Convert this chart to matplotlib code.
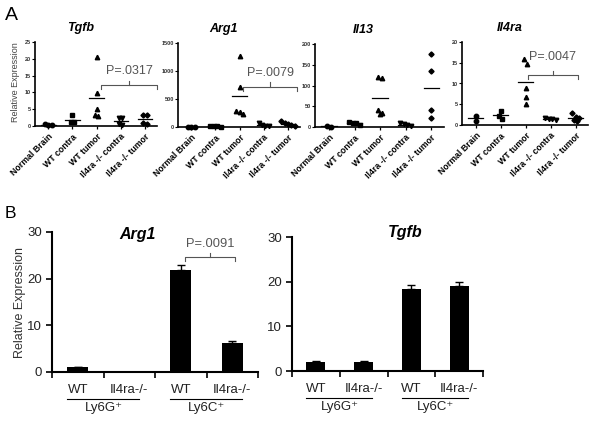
import matplotlib
matplotlib.use('Agg')
import matplotlib.pyplot as plt
import matplotlib.transforms as mtransforms
import numpy as np

plt.rcParams['font.family'] = ['Liberation Sans', 'DejaVu Sans']

W, H = 600, 424

# --- panel A: dot plots, relative expression per mouse ---
groups = ['Normal Brain', 'WT contra', 'WT tumor', 'Il4ra -/- contra', 'Il4ra -/- tumor']
markers = ['o', 's', '^', 'v', 'D']

tgfb_a = [[0.2, 0.5, 0.3], [3.2, 1.2, 1.3], [20.4, 9.9, 5.0, 2.9, 3.2],
          [2.5, 2.4, 0.5, 0.3], [3.3, 3.2, 0.8, 0.7]]
arg1_a = [[8, 2, 5], [25, 12, 10, 8], [1265, 710, 285, 230, 265],
          [75, 40, 25, 15], [100, 80, 60, 30, 25]]
il13_a = [[3, 1], [11, 10, 4, 9], [120, 118, 42, 31, 34],
          [9, 8, 3, 4], [177, 134, 42, 21]]
il4ra_a = [[2.2, 1.0], [3.4, 2.2, 1.4], [15.8, 14.8, 8.9, 6.8, 5.0],
           [1.7, 1.5, 1.4, 1.3], [2.8, 1.9, 1.8, 1.2, 1.0]]

a_genes = ['Tgfb', 'Arg1', 'Il13', 'Il4ra']
a_data = [tgfb_a, arg1_a, il13_a, il4ra_a]
a_ymax = [25, 1500, 200, 20]
a_ystep = [5, 500, 50, 5]
a_pvals = ['P=.0317', 'P=.0079', None, 'P=.0047']

# --- panel B: sorted myeloid cells ---
b_labels = ['WT', 'Il4ra-/-', 'WT', 'Il4ra-/-']
b_cells = ['Ly6G\u207a', 'Ly6C\u207a']
arg1_b = [1.0, 0.0, 21.9, 6.3]
arg1_b_err = [0.1, 0.0, 1.1, 0.35]
tgfb_b = [2.1, 2.1, 18.4, 19.0]
tgfb_b_err = [0.1, 0.1, 0.9, 0.9]

fig = plt.figure(figsize=(W / 100, H / 100), dpi=100)


def px_axes(l, t, r, b):
    return fig.add_axes([l / W, 1 - b / H, (r - l) / W, (b - t) / H])


def swarm(vals, tol, step=0.14):
    # spread points with near-equal values side by side
    vals = np.asarray(vals, float)
    order = np.argsort(vals)[::-1]
    offs = np.zeros(len(vals))
    clusters, cur = [], []
    for i in order:
        if cur and vals[cur[0]] - vals[i] > tol:
            clusters.append(cur)
            cur = []
        cur.append(i)
    clusters.append(cur)
    for c in clusters:
        n = len(c)
        for k, i in enumerate(c):
            offs[i] = (k - (n - 1) / 2) * step
    return offs


def bracket(ax, x1, x2, y, d, text, ty, fs, color='#555555'):
    ax.plot([x1, x1, x2, x2], [y - d, y, y, y - d], color=color, lw=0.8, clip_on=False)
    xm = (x1 + x2) / 2
    ax.plot([xm, xm], [y, y + d], color=color, lw=0.8, clip_on=False)
    ax.text(xm, ty, text, ha='center', va='center', fontsize=fs, color=color)


a_boxes = [(35, 42, 157, 126), (178, 43, 300, 127), (315, 44, 444, 127), (462, 42, 588, 125)]
a_brackets = [(2.2, 4.5, 12.2, 1.3, 16.5), (2.16, 4.37, 720, 80, 970),
              None, (2.08, 4.08, 12.0, 1.0, 16.3)]

for gi, gene in enumerate(a_genes):
    ax = px_axes(*a_boxes[gi])
    ymax = a_ymax[gi]
    for ci, vals in enumerate(a_data[gi]):
        offs = swarm(vals, 0.05 * ymax)
        ms = 2.6 if markers[ci] == 'D' else 3.2
        ax.plot(ci + offs, vals, linestyle='none', marker=markers[ci], ms=ms,
                color='k', clip_on=False)
        m = np.mean(vals)
        ax.plot([ci - 0.3, ci + 0.3], [m, m], color='k', lw=0.9)
    ax.set_xlim(-0.55, 4.5)
    ax.set_ylim(0, ymax)
    ax.set_yticks(np.arange(0, ymax + 1, a_ystep[gi]))
    ax.set_xticks(range(len(groups)))
    ax.set_xticklabels(groups, rotation=45, ha='right', va='top',
                       rotation_mode='anchor', fontsize=6.3, fontweight='bold')
    ax.tick_params(axis='x', length=2.5, width=0.9, pad=2)
    ax.tick_params(axis='y', length=2, width=0.8, labelsize=4, pad=1)
    for lab in ax.get_yticklabels():
        lab.set_fontweight('bold')
        lab.set_color('#333333')
    for s in ['top', 'right']:
        ax.spines[s].set_visible(False)
    for s in ['left', 'bottom']:
        ax.spines[s].set_linewidth(1.2)
    ax.text(1.35, 1 + 14 / 84, gene, transform=ax.get_xaxis_transform(),
            ha='center', va='center', fontsize=9, fontweight='bold', style='italic')
    if a_pvals[gi]:
        x1, x2, y, d, ty = a_brackets[gi]
        bracket(ax, x1, x2, y, d, a_pvals[gi], ty, 9)

fig.text(16 / W, 1 - 82 / H, 'Relative Expression', rotation=90, ha='center',
         va='center', fontsize=6.5, color='#444444')
fig.text(5 / W, 1 - 15 / H, 'A', fontsize=14, ha='left', va='center')
fig.text(5 / W, 1 - 213 / H, 'B', fontsize=12.5, ha='left', va='center')


def bar_panel(box, vals, errs, title, title_px):
    ax = px_axes(*box)
    x = np.arange(len(vals)) + 0.5
    ax.bar(x, vals, width=0.4, color='k')
    errs = np.asarray(errs)
    keep = errs > 0
    ax.errorbar(x[keep], np.asarray(vals)[keep], yerr=[np.zeros(keep.sum()), errs[keep]],
                fmt='none', ecolor='k', elinewidth=1, capsize=3, capthick=1)
    ax.set_xlim(0, 4)
    ax.set_ylim(0, 30)
    ax.set_yticks([0, 10, 20, 30])
    ax.set_xticks(range(5))
    ax.set_xticklabels([])
    ax.tick_params(axis='both', length=4, width=1.2, labelsize=9.5,
                   labelcolor='#222222', pad=3)
    for s in ['top', 'right']:
        ax.spines[s].set_visible(False)
    for s in ['left', 'bottom']:
        ax.spines[s].set_linewidth(1.5)
    tr = ax.get_xaxis_transform()
    for xi, lab in zip(x, b_labels):
        ax.annotate(lab, xy=(xi, 0), xycoords=tr, xytext=(0, -13),
                    textcoords='offset points', ha='center', va='center',
                    fontsize=9.5, color='#222222')
    line_tr = mtransforms.offset_copy(tr, fig=fig, y=-19.4, units='points')
    for k, cell in enumerate(b_cells):
        x1, x2 = 2 * k + 0.3, 2 * k + 1.68
        ax.plot([x1, x2], [0, 0], transform=line_tr, color='k', lw=0.8, clip_on=False)
        ax.annotate(cell, xy=(2 * k + 1, 0), xycoords=tr, xytext=(0, -26),
                    textcoords='offset points', ha='center', va='center',
                    fontsize=9.5, color='#222222')
    fig.text(title_px[0] / W, 1 - title_px[1] / H, title, ha='center', va='center',
             fontsize=11.5, fontweight='bold', style='italic')
    return ax


ax_b1 = bar_panel((52, 232, 258, 372), arg1_b, arg1_b_err, 'Arg1', (138, 235))
bracket(ax_b1, 2.58, 3.55, 24.7, 0.9, 'P=.0091', 27.5, 9.3)
ax_b2 = bar_panel((292, 237, 483, 371), tgfb_b, tgfb_b_err, 'Tgfb', (405, 232))

fig.text(20 / W, 1 - 302 / H, 'Relative Expression', rotation=90, ha='center',
         va='center', fontsize=9, color='#333333')

fig.savefig('out.png', dpi=100)
